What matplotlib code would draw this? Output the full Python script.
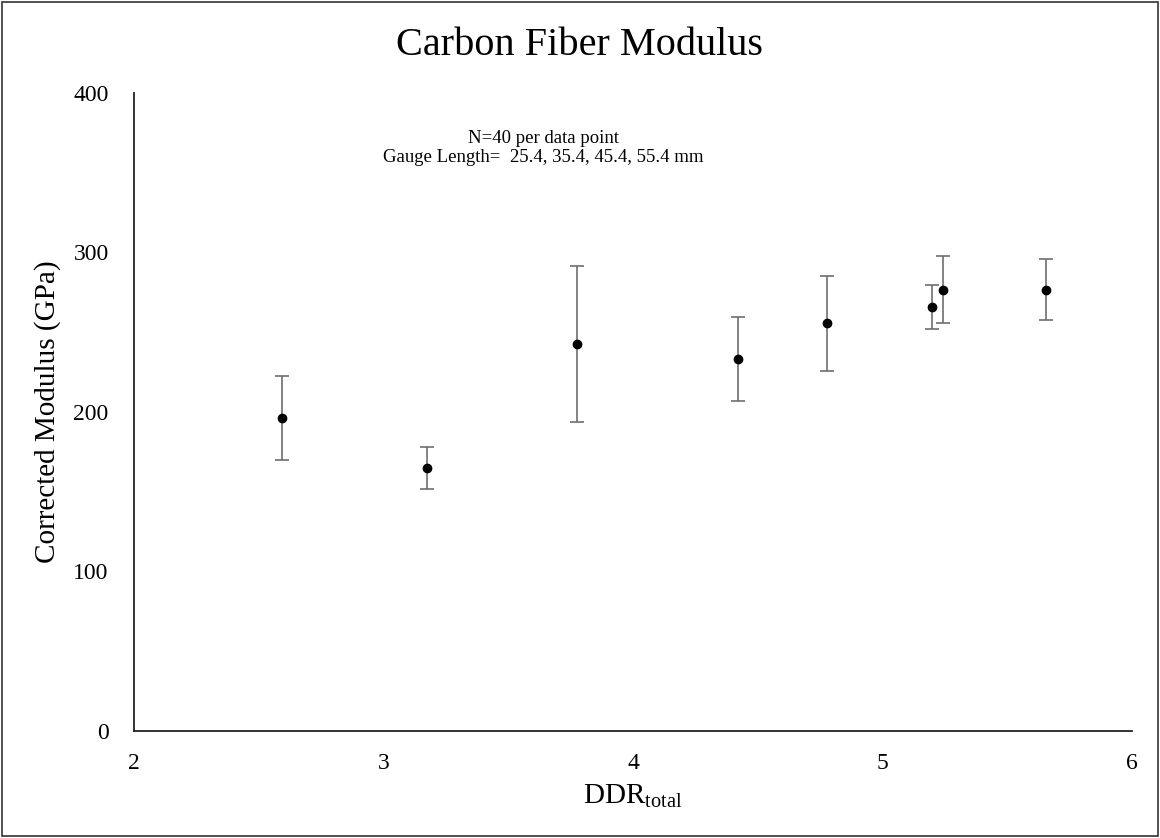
import matplotlib
matplotlib.use("Agg")
import matplotlib.pyplot as plt
from matplotlib.patches import Rectangle

# data
ddr = [2.594, 3.173, 3.776, 4.420, 4.777, 5.196, 5.243, 5.656]
modulus = [196.1, 164.8, 242.7, 233.1, 255.4, 265.8, 276.5, 276.5]
err = [26.5, 13.0, 49.0, 26.4, 29.5, 13.7, 21.0, 19.0]

plt.rcParams['font.family'] = ['Liberation Serif', 'DejaVu Serif']
plt.rcParams['mathtext.fontset'] = 'custom'
plt.rcParams['mathtext.rm'] = 'Liberation Serif'
plt.rcParams['mathtext.it'] = 'Liberation Serif:italic'


def plot():
	fig = plt.figure(figsize=(11.6, 8.38), dpi=100)
	ax = fig.add_axes([0.1153, 0.1277, 0.8608, 0.7617])

	ax.errorbar(ddr, modulus, yerr=err, fmt='o', color='black', markersize=6,
		ecolor='#6e6e6e', elinewidth=1.2, capsize=5, capthick=1.2)

	ax.set_xlim(2, 6)
	ax.set_ylim(0, 400)
	ax.set_xticks([2, 3, 4, 5, 6])
	ax.set_yticks([0, 100, 200, 300, 400])
	ax.tick_params(length=0, labelsize=17)
	ax.tick_params(axis='x', pad=16)
	ax.tick_params(axis='y', pad=18)
	ax.spines['top'].set_visible(False)
	ax.spines['right'].set_visible(False)
	for s in ['left', 'bottom']:
		ax.spines[s].set_linewidth(1.3)
		ax.spines[s].set_color('#222222')

	ax.set_xlabel('DDR$_{\\mathrm{total}}$', fontsize=21, labelpad=6)
	ax.set_ylabel('Corrected Modulus (GPa)', fontsize=21, labelpad=9)
	fig.text(0.5, 0.946, 'Carbon Fiber Modulus', ha='center', va='center', fontsize=29)

	ax.text(0.41, 0.929, 'N=40 per data point', transform=ax.transAxes,
		ha='center', va='center', fontsize=13.5)
	ax.text(0.41, 0.899, 'Gauge Length=  25.4, 35.4, 45.4, 55.4 mm', transform=ax.transAxes,
		ha='center', va='center', fontsize=13.5)

	# chart border
	fig.patches.append(Rectangle((0.002, 0.002), 0.996, 0.996, transform=fig.transFigure,
		fill=False, edgecolor='#333333', linewidth=1.2))

	fig.savefig('out.png', dpi=100)


if __name__ == '__main__':
	plot()
